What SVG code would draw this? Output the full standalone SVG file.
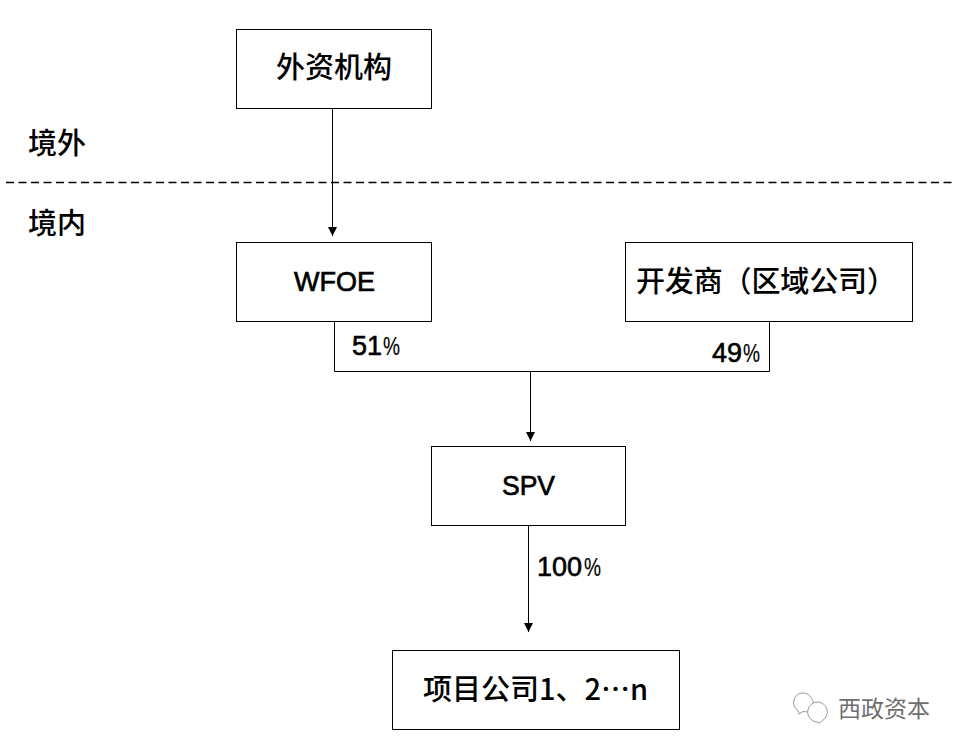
<svg xmlns="http://www.w3.org/2000/svg" width="959" height="750" viewBox="0 0 959 750">
<defs>
<marker id="arr" markerUnits="userSpaceOnUse" markerWidth="10" markerHeight="10" refX="9" refY="4.500" orient="auto"><path d="M0 0L9 4.500L0 9Z" fill="#000"/></marker>
</defs>
<style>
text{font-family:"Liberation Sans","Noto Sans CJK SC",sans-serif;fill:#000;font-weight:400}
.t{font-size:28px;text-anchor:middle;stroke:#000;stroke-width:.7px}
.c{font-size:29px;text-anchor:middle;font-family:"Noto Sans CJK SC",sans-serif;font-weight:500}
.l{font-size:27px;stroke:#000;stroke-width:.6px}
.p{font-size:26px;stroke:#000;stroke-width:.2px}
.b{fill:#fff;stroke:#000;stroke-width:1}
.e{fill:none;stroke:#000;stroke-width:1}
.w{fill:#fff;stroke:#999;stroke-width:1}
</style>
<rect width="959" height="750" fill="#fff"/>
<g id="connectors">
<path class="e" d="M6 182.500H953" stroke-dasharray="8 4.500" style="stroke-width:1.300"/>
<path class="e" d="M332.500 108V236" marker-end="url(#arr)"/>
<path class="e" d="M334.500 321V371.500H769.500V321"/>
<path class="e" d="M530.500 371V441" marker-end="url(#arr)"/>
<path class="e" d="M528.500 525V632" marker-end="url(#arr)"/>
</g>
<g id="n1"><rect class="b" x="236.500" y="29.500" width="195" height="79"/><text class="c" x="334" y="78">外资机构</text></g>
<g id="n2"><rect class="b" x="236.500" y="242.500" width="195" height="79"/><text class="t" x="334.500" y="291" textLength="81" lengthAdjust="spacingAndGlyphs">WFOE</text></g>
<g id="n3"><rect class="b" x="625.500" y="242.500" width="287" height="79"/><text class="c" x="766" y="292" textLength="260" lengthAdjust="spacing">开发商（区域公司）</text></g>
<g id="n4"><rect class="b" x="431.500" y="446.500" width="194" height="79"/><text class="t" x="528.500" y="495" textLength="53" lengthAdjust="spacingAndGlyphs">SPV</text></g>
<g id="n5"><rect class="b" x="392.500" y="650.500" width="287" height="79"/><text class="c" x="535.500" y="700">项目公司1、2…n</text></g>
<g id="labels">
<text class="c" x="57" y="154">境外</text>
<text class="c" x="57" y="234">境内</text>
<text x="352" y="355" class="l">51</text><text x="383" y="355" class="p" textLength="17" lengthAdjust="spacingAndGlyphs">%</text>
<text x="712" y="362" class="l">49</text><text x="743" y="362" class="p" textLength="17" lengthAdjust="spacingAndGlyphs">%</text>
<text x="537" y="576" class="l">100</text><text x="584" y="576" class="p" textLength="17" lengthAdjust="spacingAndGlyphs">%</text>
</g>
<g id="watermark">
<path class="w" d="M803 693a9.500 9.500 0 0 0-5 17.500l1 3.500 4-2.500a9.500 9.500 0 0 0 8-1a9.500 9.500 0 0 0 0-13a9.500 9.500 0 0 0-8-4.500z"/>
<path class="w" d="M818 702a10 10 0 0 0-4 19.300l6 1.500 2-2a10 10 0 0 0-4-18.800z"/>
<text x="838" y="717" style="font-size:23px;fill:#6f6f6f;font-family:'Noto Sans CJK SC',sans-serif">西政资本</text>
</g>
</svg>
